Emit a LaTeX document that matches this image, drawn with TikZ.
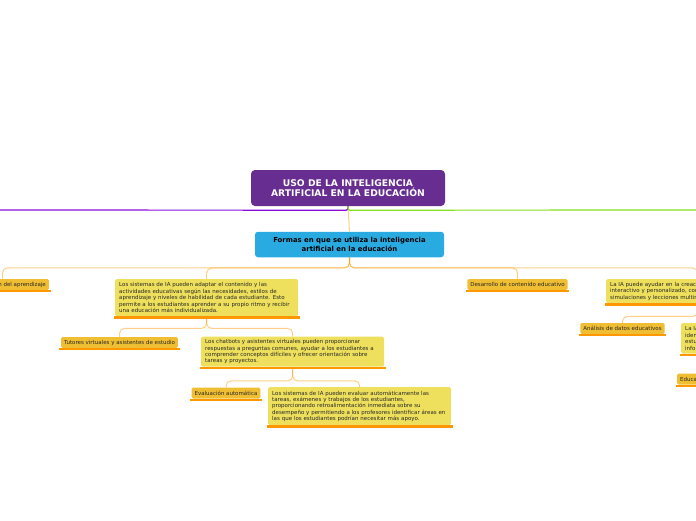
\documentclass[tikz,border=0pt]{standalone}
\usepackage{fontspec}
\setmainfont{DejaVu Sans}
\usetikzlibrary{calc}
\definecolor{titlec}{RGB}{103,45,145}
\definecolor{bluec}{RGB}{41,171,226}
\definecolor{goldc}{RGB}{240,190,50}
\definecolor{yelc}{RGB}{238,224,92}
\definecolor{ubarc}{RGB}{255,152,0}
\definecolor{brc}{RGB}{255,160,20}
\definecolor{txtc}{RGB}{40,40,40}
\definecolor{purc}{RGB}{140,10,220}
\definecolor{grnc}{RGB}{130,225,30}
\pgfdeclarelayer{bg}
\pgfsetlayers{bg,main}
\begin{document}
\begin{tikzpicture}[x=1pt,y=-1pt,
  titlebox/.style={fill=titlec, rounded corners=4pt, text=white, font=\fontsize{9.2}{10.5}\selectfont\bfseries, align=center, minimum width=194pt, minimum height=36pt, inner sep=0pt},
  bluebox/.style={fill=bluec, rounded corners=3pt, text=black, font=\fontsize{6.9}{8.7}\selectfont\bfseries, align=center, minimum width=189pt, minimum height=25.5pt, inner sep=0pt},
  gold/.style={fill=goldc, rounded corners=1.5pt, text=txtc, font=\fontsize{5.5}{6.5}\selectfont, inner xsep=3pt, inner ysep=0pt, minimum height=11pt},
  yel/.style={fill=yelc, rounded corners=1.5pt, text=txtc, font=\fontsize{5.5}{6.4}\selectfont, align=left, text width=175pt, inner xsep=4pt, inner ysep=0pt, anchor=north west},
  ubar/.style={draw=ubarc, line width=2.3pt},
  branch/.style={draw=brc, draw opacity=0.5, line width=1pt, rounded corners=5pt},
  purline/.style={draw=purc, line width=1.2pt, rounded corners=2pt},
  grnline/.style={draw=grnc, line width=1.2pt, rounded corners=2pt}
]
\useasboundingbox (0,0) rectangle (696,520);

% main nodes
\node[titlebox] (title) at (348,188) {USO DE LA INTELIGENCIA\\ARTIFICIAL EN LA EDUCACIÓN};
\node[bluebox] (blue) at (349.5,244.5) {Formas en que se utiliza la inteligencia\\artificial en la educación};

\node[gold, anchor=east] (g1) at (49,284.5) {Personalización del aprendizaje};
\node[yel, minimum height=37pt] (y1) at (115,279) {Los sistemas de IA pueden adaptar el contenido y las\\actividades educativas según las necesidades, estilos de\\aprendizaje y niveles de habilidad de cada estudiante. Esto\\permite a los estudiantes aprender a su propio ritmo y recibir\\una educación más individualizada.};
\node[gold] (g2) at (517.5,284.5) {Desarrollo de contenido educativo};
\node[yel, minimum height=24pt] (y4) at (606,279) {La IA puede ayudar en la creación de contenido educativo\\interactivo y personalizado, como juegos educativos,\\simulaciones y lecciones multimedia.};

\node[gold] (g3) at (119.5,342.5) {Tutores virtuales y asistentes de estudio};
\node[yel, minimum height=30pt] (y2) at (201,336.5) {Los chatbots y asistentes virtuales pueden proporcionar\\respuestas a preguntas comunes, ayudar a los estudiantes a\\comprender conceptos difíciles y ofrecer orientación sobre\\tareas y proyectos.};

\node[gold] (g4) at (226,393) {Evaluación automática};
\node[yel, minimum height=38pt] (y3) at (268,387) {Los sistemas de IA pueden evaluar automáticamente las\\tareas, exámenes y trabajos de los estudiantes,\\proporcionando retroalimentación inmediata sobre su\\desempeño y permitiendo a los profesores identificar áreas en\\las que los estudiantes podrían necesitar más apoyo.};

\node[gold] (g5) at (622.5,328.5) {Análisis de datos educativos};
\node[yel, minimum height=30.5pt] (y5) at (681,323) {La IA puede analizar datos de los estudiantes para\\identificar patrones y tendencias en su rendimiento,\\estudiar su progreso y ofrecer a los docentes\\información útil.};
\node[gold, anchor=west] (g6) at (677,379) {Educación inclusiva};

% underline bars
\foreach \n in {g1,g2,g3,g4,g5,g6,y1,y2,y3,y4,y5}{
  \draw[ubar] ($(\n.south west)+(-1.5,1)$) -- ($(\n.south east)+(1.5,1)$);
}

% connectors
\coordinate (tH) at ($(title.south)+(0,4)$);
\coordinate (offL) at (-30,210);
\coordinate (offR) at (730,210);
\coordinate (bH) at ($(blue.south)+(0,10.5)$);
\coordinate (y1H) at ($(y1.south)+(0,12)$);
\coordinate (y2H) at ($(y2.south)+(0,14)$);
\coordinate (y4H) at ($(y4.south)+(0,13)$);
\coordinate (y5H) at ($(y5.south)+(0,13)$);
\begin{pgfonlayer}{bg}
  \draw[branch] (title.south) -- (blue.north);
  \draw[purline] (title.south) -- (tH) -- (offL);
  \draw[grnline] (title.south) -- (tH) -- (offR);
  \foreach \c in {g1,y1,g2,y4}{
    \draw[branch] (blue.south) -- (bH) -- (bH -| \c.north) -- (\c.north);
  }
  \foreach \c in {g3,y2}{
    \draw[branch] (y1.south) -- (y1H) -- (y1H -| \c.north) -- (\c.north);
  }
  \foreach \c in {g4,y3}{
    \draw[branch] (y2.south) -- (y2H) -- (y2H -| \c.north) -- (\c.north);
  }
  \foreach \c in {g5,y5}{
    \draw[branch] (y4.south) -- (y4H) -- (y4H -| \c.north) -- (\c.north);
  }
  \draw[branch] (y5.south) -- (y5H) -- (y5H -| g6.north) -- (g6.north);
\end{pgfonlayer}
\end{tikzpicture}
\end{document}
